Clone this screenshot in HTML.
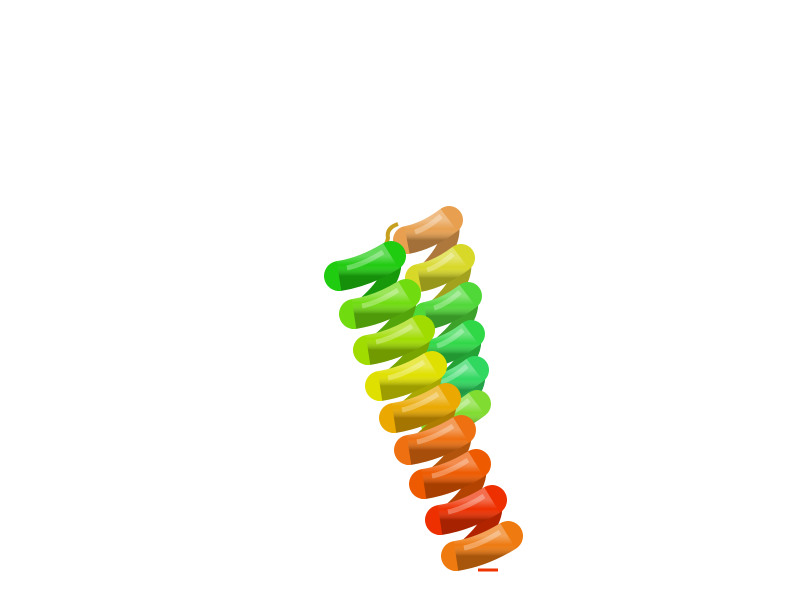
<!DOCTYPE html>
<html><head><meta charset="utf-8"><style>html,body{margin:0;background:#fff}svg{display:block}</style></head>
<body>
<svg width="800" height="600" viewBox="0 0 800 600">
<defs>
<linearGradient id="sh" x1="0" y1="0" x2="0" y2="1"><stop offset="0" stop-color="#fff" stop-opacity="0.3"/><stop offset="0.45" stop-color="#fff" stop-opacity="0"/><stop offset="1" stop-color="#000" stop-opacity="0.3"/></linearGradient>
</defs>
<g id="back"></g>
<path d="M398 224 Q386 228 388 238 Q386 248 376 254" stroke="#c8a020" stroke-width="4" fill="none"/>
<g id="front"></g>
<path d="M478 570 L498 570" stroke="#ee3300" stroke-width="3"/>
</svg>
<script>
const backX=[428,440,447,450,454,456];
const backY=[230,268,306,344,380,414];
const backC=["#e8a050","#d8d828","#50d838","#30d848","#30d860","#80dc30"];
const frontX=[365,380,394,406,420,435,450,466,482];
const frontY=[266,304,340,376,408,440,474,510,546];
const frontC=["#20cc10","#70dc10","#a0dc00","#e0e000","#eaa800","#ee7010","#ee5a00","#ee3000","#ee7a10"];
const NS="http://www.w3.org/2000/svg";
function mk(g,d,attrs,name){
  const p=document.createElementNS(NS,"path");
  p.setAttribute("d",d);
  for(const k in attrs)p.setAttribute(k,attrs[k]);
  
  
  g.appendChild(p);
}
function helix(g,X,Y,C,pre,w,sw){
  for(let i=0;i<X.length-1;i++){
    const d=`M${X[i]+w} ${Y[i]-10} Q${X[i]+w+8} ${(Y[i]+Y[i+1])/2-6} ${X[i+1]-w+4} ${Y[i+1]+8}`;
    mk(g,d,{stroke:C[i],"stroke-width":18,fill:"none","stroke-linecap":"round"},pre+"-back-strand-"+i);
    mk(g,d,{stroke:"#000","stroke-width":18,fill:"none",opacity:0.25,"stroke-linecap":"round"},pre+"-back-shade-"+i);
  }
  for(let i=0;i<X.length;i++){
    const cx=X[i],cy=Y[i];
    const d=`M${cx-w} ${cy+10} Q${cx} ${cy+6} ${cx+w} ${cy-10}`;
    mk(g,d,{stroke:C[i],"stroke-width":sw,fill:"none","stroke-linecap":"round"},pre+"-turn-"+i);
    mk(g,d,{stroke:"url(#sh)","stroke-width":sw,fill:"none"},pre+"-turn-shade-"+i);
    mk(g,`M${cx-w+8} ${cy+2} Q${cx} ${cy-2} ${cx+w-8} ${cy-14}`,{stroke:"#fff","stroke-width":5,fill:"none",opacity:0.3},pre+"-highlight-"+i);
  }
}
helix(document.getElementById("back"),backX,backY,backC,"back",21,28);
helix(document.getElementById("front"),frontX,frontY,frontC,"front",26,30);
</script>
</body></html>
